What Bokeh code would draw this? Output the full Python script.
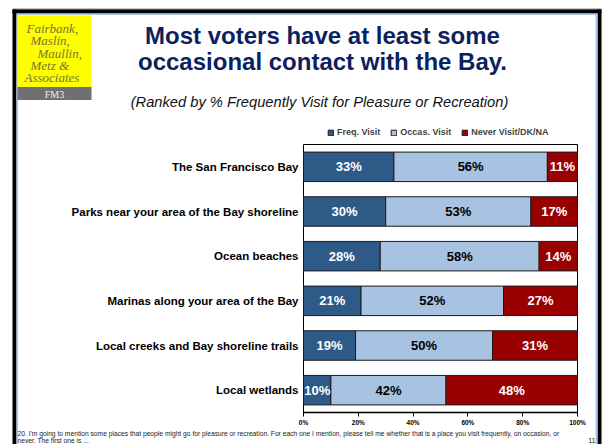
from bokeh.plotting import figure
from bokeh.models import (ColumnDataSource, Range1d, FixedTicker, LinearAxis,
                          Legend, LegendItem)
from bokeh.core.properties import value
from bokeh.embed import file_html
from bokeh.resources import INLINE

# ---------------- data ----------------
categories = [
    "The San Francisco Bay",
    "Parks near your area of the Bay shoreline",
    "Ocean beaches",
    "Marinas along your area of the Bay",
    "Local creeks and Bay shoreline trails",
    "Local wetlands",
]
freq_visit = [33, 30, 28, 21, 19, 10]
occas_visit = [56, 53, 58, 52, 50, 42]
never_visit = [11, 17, 14, 27, 31, 48]
series_names = ["Freq. Visit", "Occas. Visit", "Never Visit/DK/NA"]
tick_values = [0, 20, 40, 60, 80, 100]
tick_labels = ["0%", "20%", "40%", "60%", "80%", "100%"]

title_lines = ["Most voters have at least some", "occasional contact with the Bay."]
subtitle = "(Ranked by % Frequently Visit for Pleasure or Recreation)"
footnote_lines = [
    "20. I'm going to mention some places that people might go for pleasure or recreation.  "
    "For each one I mention, please tell me whether that is a place you visit frequently, on occasion, or",
    "never.  The first one is ...",
]
page_number = "11"
logo_lines = ["Fairbank,", "Maslin,", "Maullin,", "Metz &", "Associates"]
logo_mark = "FM3"

# ---------------- styles / layout ----------------
colors = ["#2D5A87", "#A7C3E1", "#990000"]
label_colors = ["white", "black", "white"]
FONT = "Liberation Sans"
SERIF = "Liberation Serif"
NAVY = "#0C1F5E"
PALE = "#A9C4E6"

W, H = 602, 444
# bar-chart box in page pixels
FL, FR, FT, FB = 303, 577, 144, 412
n = len(categories)
xpx = (FR - FL) / 100.0          # pixels per percent
ypx = (FB - FT) / n              # pixels per category slot

p = figure(width=W, height=H,
           x_range=Range1d(-FL / xpx, (W - FL) / xpx),
           y_range=Range1d(0.5 - (H - FB) / ypx, 0.5 + FB / ypx),
           output_backend="svg", toolbar_location=None,
           x_axis_location=None, y_axis_location=None, min_border=0)
p.extra_x_ranges = {"pg": Range1d(0, W)}
p.extra_y_ranges = {"pg": Range1d(H, 0)}
p.outline_line_color = None
p.background_fill_color = "white"
p.border_fill_color = "white"
for g in p.grid:
    g.visible = False


def deco_quad(l, r, t, b, color):
    p.quad(left=l, right=r, top=t, bottom=b, fill_color=color, line_color=None,
           x_range_name="pg", y_range_name="pg")


def txt(x, y, text, size, color="black", align="left", style="normal", font=FONT):
    p.text(x=[x], y=[y], text=[text], text_align=align, text_baseline="middle",
           text_font=value(font), text_font_style=style, text_font_size=size,
           text_color=color, x_range_name="pg", y_range_name="pg")


# ---------------- slide frame & logo ----------------
deco_quad([12, 12, 16, 12, 16, 597, 595],
          [601, 601, 597, 16, 17.5, 601, 597],
          [8, 9, 13, 9, 13, 9, 13],
          [9.3, 13, 14.5, H, H, H, H],
          ["#8A8A8A", "black", PALE, "black", PALE, "black", PALE])
deco_quad([17, 17], [91, 91], [15, 86.5], [86.5, 99.5], ["#FFFF00", "#707070"])
logo_x = [26, 30, 37, 30, 24]
logo_y = [28, 40, 52.5, 65, 77]
for lx, ly, t in zip(logo_x, logo_y, logo_lines):
    txt(lx, ly, t, "13px", color="#77733C", style="italic", font=SERIF)
txt(54, 93.5, logo_mark, "10px", color="#EEEEEE", align="center", font=SERIF)

# ---------------- titles ----------------
txt(322, 35, title_lines[0], "24px", color=NAVY, align="center", style="bold")
txt(322, 61, title_lines[1], "24px", color=NAVY, align="center", style="bold")
txt(319, 101, subtitle, "14.7px", color="#111111", align="center", style="italic")

# ---------------- chart ----------------
ypos = [n - i for i in range(n)]          # first category on top
p.quad(left=[0], right=[100], bottom=[0.5], top=[n + 0.5],
       fill_color="white", line_color="black", line_width=1)

src = ColumnDataSource(dict(y=ypos, freq=freq_visit, occas=occas_visit, never=never_visit))
bars = p.hbar_stack(["freq", "occas", "never"], y="y", height=0.66,
                    fill_color=colors, line_color="#1A1A1A", line_width=1,
                    source=src)

xs, ys, ts, cs = [], [], [], []
for i in range(n):
    vals = [freq_visit[i], occas_visit[i], never_visit[i]]
    start = 0
    for k, v in enumerate(vals):
        xs.append(start + v / 2)
        ys.append(ypos[i])
        ts.append(f"{v}%")
        cs.append(label_colors[k])
        start += v
p.text(x="x", y="y", text="t", text_color="c",
       source=ColumnDataSource(dict(x=xs, y=ys, t=ts, c=cs)),
       text_align="center", text_baseline="middle",
       text_font=value(FONT), text_font_style="bold", text_font_size="13px")

xa = LinearAxis(fixed_location=0.5, bounds=(0, 100),
                ticker=FixedTicker(ticks=tick_values),
                major_label_overrides=dict(zip(tick_values, tick_labels)))
xa.axis_line_color = "black"
xa.axis_line_width = 1.5
xa.major_tick_out = 4
xa.major_tick_in = 0
xa.major_tick_line_color = "black"
xa.minor_tick_line_color = None
xa.major_label_standoff = 2
xa.major_label_text_font = FONT
xa.major_label_text_font_style = "bold"
xa.major_label_text_font_size = "6.5px"
xa.major_label_text_color = "black"
p.add_layout(xa, "below")

ya = LinearAxis(fixed_location=0, bounds=(0.5, n + 0.5),
                ticker=FixedTicker(ticks=ypos),
                major_label_overrides=dict(zip(ypos, categories)))
ya.axis_line_color = None
ya.major_tick_line_color = None
ya.minor_tick_line_color = None
ya.major_tick_out = 0
ya.major_tick_in = 0
ya.major_label_standoff = 5
ya.major_label_text_font = FONT
ya.major_label_text_font_style = "bold"
ya.major_label_text_font_size = "11.5px"
ya.major_label_text_color = "black"
p.add_layout(ya, "left")

legend = Legend(items=[LegendItem(label=s, renderers=[r]) for s, r in zip(series_names, bars)],
                orientation="horizontal", location=(327, H - 137),
                background_fill_alpha=0, border_line_color=None,
                padding=0, margin=0, spacing=10, label_standoff=3,
                glyph_width=7, glyph_height=7, label_height=9,
                label_text_font=FONT, label_text_font_style="bold",
                label_text_font_size="9px")
p.add_layout(legend)

# ---------------- footer ----------------
txt(17, 433, footnote_lines[0], "6.7px", color="#222222")
txt(17, 440, footnote_lines[1], "6.7px", color="#222222")
txt(595, 440, page_number, "7px", color="#222222", align="right")

open("out.html", "w").write(file_html(p, INLINE))
